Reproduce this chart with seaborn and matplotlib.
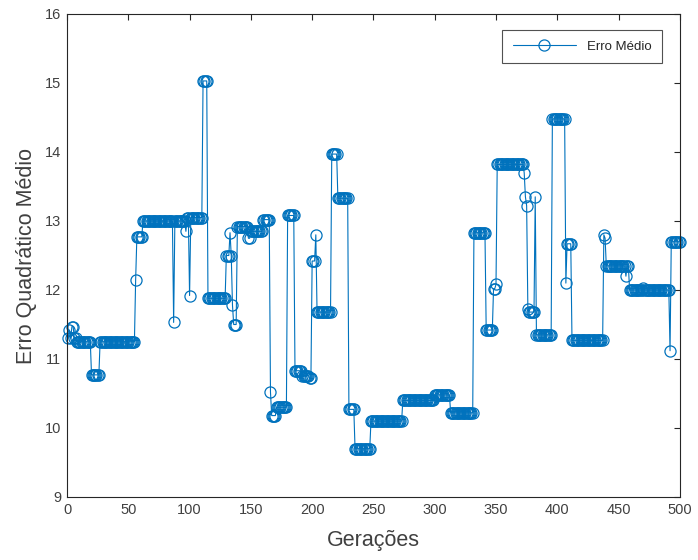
import numpy as np
import pandas as pd
import matplotlib
matplotlib.use("Agg")
import matplotlib.pyplot as plt
import seaborn as sns

# Mean squared error per generation, stored as runs: each entry starts at
# the given generation and holds its value until the next run begins.
run_start = [1, 2, 3, 4, 6, 8, 20, 27, 56, 57, 62, 87, 88, 97, 98, 100, 101,
             111, 115, 130, 133, 134, 135, 136, 139, 148, 150, 160, 166, 167,
             171, 180, 186, 192, 198, 200, 203, 204, 216, 221, 230, 235, 248,
             274, 300, 313, 332, 342, 348, 350, 351, 373, 374, 375, 376, 377,
             382, 383, 396, 407, 408, 412, 438, 439, 440, 456, 457, 459, 470,
             471, 492, 493]
run_value = [11.30, 11.42, 11.30, 11.47, 11.30, 11.25, 10.77, 11.25, 12.15,
             12.77, 13.00, 11.53, 13.00, 12.85, 13.05, 11.92, 13.05, 15.03,
             11.88, 12.50, 12.83, 12.50, 11.78, 11.50, 12.92, 12.75, 12.85,
             13.02, 10.52, 10.18, 10.30, 13.08, 10.83, 10.76, 10.72, 12.42,
             12.80, 11.68, 13.97, 13.33, 10.27, 9.70, 10.10, 10.40, 10.48,
             10.22, 12.83, 11.42, 12.02, 12.08, 13.82, 13.70, 13.35, 13.22,
             11.72, 11.68, 13.35, 11.35, 14.48, 12.10, 12.67, 11.27, 12.80,
             12.75, 12.35, 12.20, 12.35, 12.00, 12.03, 12.00, 11.12, 12.70]
last_generation = 500

x_ticks = [0, 50, 100, 150, 200, 250, 300, 350, 400, 450, 500]
y_ticks = [9, 10, 11, 12, 13, 14, 15, 16]

run_len = np.diff(run_start + [last_generation + 1])
df = pd.DataFrame({
    "Gerações": np.arange(1, last_generation + 1),
    "Erro": np.repeat(run_value, run_len),
})

sns.set_style("white")
plt.rcParams["font.family"] = ["Liberation Sans", "DejaVu Sans"]

blue = "#0072BD"
text_col = "#404040"
fig = plt.figure(figsize=(6.98, 5.6), dpi=100)
ax = fig.add_axes([0.096, 0.1125, 0.878, 0.8625])

sns.lineplot(data=df, x="Gerações", y="Erro", ax=ax, color=blue,
             linewidth=0.8, marker="o", markersize=8,
             markerfacecolor="none", markeredgecolor=blue,
             markeredgewidth=0.9, label="Erro Médio", clip_on=False)

ax.set_xlim(0, 500)
ax.set_ylim(9, 16)
ax.set_xticks(x_ticks)
ax.set_yticks(y_ticks)
ax.tick_params(direction="in", length=4, width=0.8, colors="#262626",
               labelcolor=text_col, labelsize=10.5, top=True, right=True,
               pad=4)
ax.tick_params(axis="x", labeltop=False)
ax.tick_params(axis="y", labelright=False)
for s in ax.spines.values():
    s.set_color("#262626")
    s.set_linewidth(0.8)

ax.set_xlabel("Gerações", fontsize=15.5, color=text_col, labelpad=10)
ax.set_ylabel("Erro Quadrático Médio", fontsize=15.5, color=text_col,
              labelpad=6)

leg = ax.legend(loc="upper right", bbox_to_anchor=(0.977, 0.975),
                fontsize=9.5, frameon=True, fancybox=False, handlelength=4.8,
                borderpad=0.8, borderaxespad=0.3, handletextpad=0.8)
leg.get_frame().set_edgecolor("#262626")
leg.get_frame().set_linewidth(0.8)

fig.savefig("out.png", dpi=100)
